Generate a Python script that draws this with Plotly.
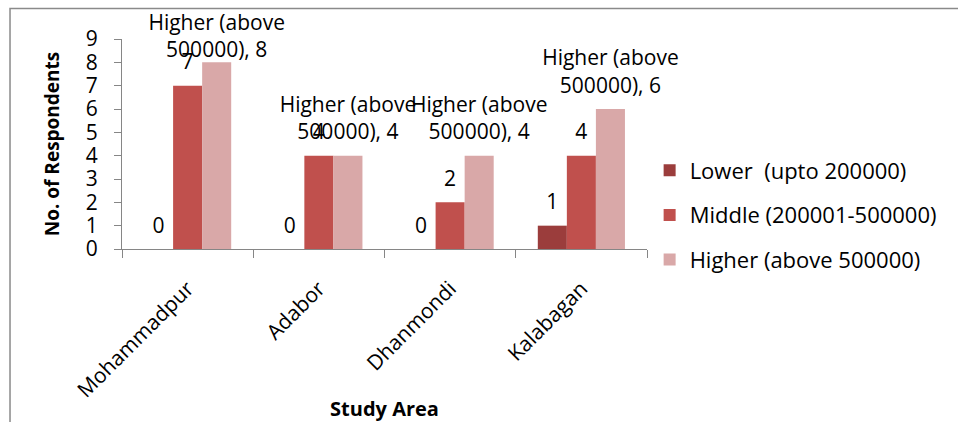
import plotly.graph_objects as go

# Respondents by income group in each study area
areas = ["Mohammadpur", "Adabor", "Dhanmondi", "Kalabagan"]
series_names = ["Lower  (upto 200000)", "Middle (200001-500000)", "Higher (above 500000)"]
lower = [0, 0, 0, 1]
middle = [7, 4, 2, 4]
higher = [8, 4, 4, 6]
y_ticks = [0, 1, 2, 3, 4, 5, 6, 7, 8, 9]

colors = ["#9B3D3C", "#C0504D", "#D9A8A8"]
font_family = "Open Sans, Arial, sans-serif"
axis_grey = "#868686"

values = [lower, middle, higher]
fig = go.Figure()

for i, (name, vals) in enumerate(zip(series_names, values)):
    fig.add_trace(go.Bar(
        x=areas, y=vals, name=name,
        marker=dict(color=colors[i], line=dict(width=0)),
        offsetgroup=str(i), legendgroup=str(i),
        hoverinfo="x+y+name",
    ))

# data labels, lifted above each bar by invisible markers
label_size = 21
for i, (name, vals) in enumerate(zip(series_names, values)):
    if i == 2:
        texts = ["Higher (above<br>500000), %d" % v for v in vals]
        sizes = [0, 16, 16, 16]
    else:
        texts = [str(v) for v in vals]
        sizes = [16] * len(vals)
    fig.add_trace(go.Scatter(
        x=areas, y=vals, mode="markers+text", text=texts,
        textposition="top center",
        textfont=dict(family=font_family, size=label_size, color="#000000"),
        marker=dict(size=sizes, color="rgba(0,0,0,0)", line=dict(width=0, color="rgba(0,0,0,0)")),
        offsetgroup=str(i), showlegend=False, hoverinfo="skip",
        cliponaxis=False,
    ))

fig.update_layout(
    width=958, height=422,
    margin=dict(l=122, r=311, t=39, b=173),
    paper_bgcolor="white", plot_bgcolor="white",
    barmode="group", bargap=0.336, bargroupgap=0,
    scattermode="group",
    font=dict(family=font_family, size=21, color="#000000"),
    showlegend=True,
    legend=dict(
        x=1.005, xanchor="left", y=0.162, yanchor="middle",
        font=dict(family=font_family, size=22, color="#000000"),
        tracegroupgap=13, bgcolor="rgba(0,0,0,0)",
    ),
    xaxis=dict(
        type="category", categoryorder="array", categoryarray=areas,
        automargin=False,
        showline=True, linecolor=axis_grey, linewidth=1,
        ticks="outside", tickson="boundaries", ticklen=8, tickcolor=axis_grey,
        tickangle=-45, tickfont=dict(family=font_family, size=21, color="#000000"),
        ticklabelstandoff=18,
        showgrid=False, zeroline=False,
        title=dict(text="<b>Study Area</b>", font=dict(family=font_family, size=20), standoff=0),
    ),
    yaxis=dict(
        range=[0, 9], tickvals=y_ticks,
        automargin=False,
        showline=True, linecolor=axis_grey, linewidth=1,
        ticks="outside", ticklen=7, tickcolor=axis_grey,
        tickfont=dict(family=font_family, size=21, color="#000000"),
        ticklabelstandoff=12,
        showgrid=False, zeroline=False,
        title=dict(text="<b>No. of Respondents</b>", font=dict(family=font_family, size=19), standoff=21),
    ),
    shapes=[dict(
        type="rect", xref="paper", yref="paper",
        x0=-0.2133, x1=1.62, y0=-0.9, y1=1.145,
        line=dict(color="#8A8A8A", width=1.5), fillcolor="rgba(0,0,0,0)", layer="below",
    )],
)

fig.write_html("out.html")
